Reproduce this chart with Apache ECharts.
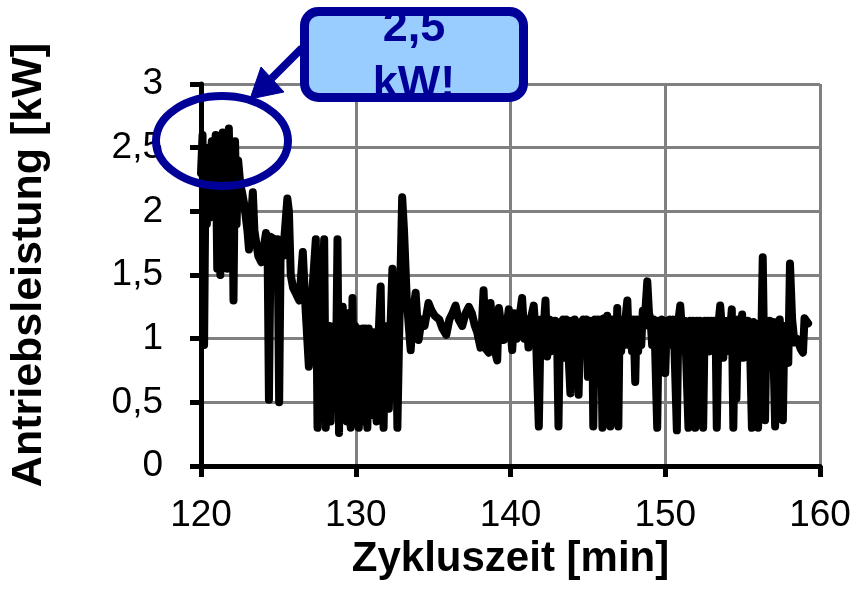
<!DOCTYPE html>
<html>
<head>
<meta charset="utf-8">
<script src="https://cdn.jsdelivr.net/npm/echarts@6/dist/echarts.min.js"></script>
<style>
html,body{margin:0;padding:0;background:#fff;}
#chart{width:856px;height:593px;}
</style>
</head>
<body>
<div id="chart"></div>
<script>
// [Zykluszeit min, Antriebsleistung kW]
var startupPhase = [
[120.00,2.30],[120.10,2.60],[120.20,0.95],[120.30,2.45],[120.38,1.90],[120.45,2.50],[120.55,1.95],
[120.62,2.45],[120.70,2.55],[120.80,2.00],[120.88,2.40],[120.95,2.60],[121.05,1.55],[121.15,2.55],
[121.25,1.50],[121.33,2.30],[121.40,2.62],[121.50,1.60],[121.60,2.55],[121.70,1.55],[121.80,2.65],
[121.90,1.75],[122.00,2.45],[122.10,1.30],[122.20,2.55],[122.30,1.90],[122.40,2.40],[122.55,2.20],
[122.65,2.15],[122.80,2.05],[123.00,1.85],[123.10,1.70],[123.35,2.15],[123.45,1.85],[123.70,1.65],
[123.90,1.60],[124.20,1.83],[124.30,1.75],[124.39,0.52],[124.50,1.80],[124.75,1.78],[124.95,1.78],
[125.05,0.50],[125.15,1.75],[125.30,1.65],[125.58,2.10],[125.68,2.00],[125.80,1.50],[125.95,1.40],
[126.15,1.35],[126.35,1.30],[126.58,1.68],[126.75,1.25],[126.97,0.78],[127.10,1.20],[127.42,1.78],
[127.53,0.30],[127.65,1.00],[127.80,1.20],[127.96,1.78],[128.06,0.30]
];
var transitionPhase = [
[128.15,1.05],[128.22,0.40],[128.30,1.10],[128.38,0.35],[128.46,1.05],[128.54,0.45],[128.62,1.10],
[128.70,0.50],[128.82,1.78],[128.92,0.26],[129.00,1.15],[129.08,0.40],[129.16,1.25],[129.25,0.45],
[129.33,1.10],[129.42,0.35],[129.50,1.20],[129.58,0.50],[129.68,0.30],[129.79,1.32],[129.88,0.55],
[129.96,1.10],[130.04,0.40],[130.12,1.08],[130.20,0.30],[130.28,1.05],[130.36,0.50],[130.44,1.08],
[130.52,0.35],[130.60,1.08],[130.68,0.55],[130.75,0.30],[130.84,1.08],[130.92,0.45],[131.00,1.05],
[131.08,0.40],[131.16,1.05],[131.25,0.55],[131.35,0.35],[131.45,0.95],[131.61,1.41],[131.72,0.60],
[131.80,0.30],[131.90,1.10],[131.98,0.50],[132.06,1.05],[132.14,0.45],[132.22,1.00],[132.37,1.55],
[132.50,0.70],[132.60,1.20],[132.69,0.30],[132.80,1.00],[133.00,2.11],[133.12,1.85],[133.30,1.30],
[133.55,0.91],[133.70,1.20],[133.87,1.36],[134.06,0.99],[134.25,1.15],[134.45,1.10],[134.70,1.28],
[134.90,1.22],[135.10,1.18],[135.40,1.15],[135.60,1.08],[135.85,1.03],[136.05,1.15],[136.25,1.20],
[136.45,1.26],[136.65,1.15],[136.88,1.10],[137.10,1.20],[137.31,1.25],[137.50,1.20],[137.70,1.10],
[137.85,1.05],[138.06,0.93],[138.15,1.10],[138.26,1.38],[138.40,0.92],[138.60,0.89],[138.71,1.28],
[138.90,0.95],[139.14,0.83],[139.25,1.24],[139.45,1.05],[139.57,0.99],[139.75,1.10],[139.89,1.23],
[140.11,0.91],[140.25,1.20],[140.40,1.00],[140.50,0.99],[140.65,1.23],[140.75,1.32],[140.90,1.00],
[141.05,1.15],[141.16,0.93],[141.30,1.15],[141.50,1.26],[141.65,1.00],[141.83,0.31],[141.95,1.15],
[142.10,1.00],[142.26,1.30],[142.37,0.86]
];
var steadyPhase = [
[142.50,1.15],[142.60,0.90],[142.70,1.14],[142.80,0.95],[142.90,1.14],[143.00,1.10],[143.10,0.31],
[143.20,1.13],[143.30,0.90],[143.40,1.15],[143.50,0.85],[143.60,1.15],[143.70,1.00],[143.87,0.57],
[143.95,1.14],[144.05,0.90],[144.15,1.15],[144.25,0.95],[144.32,1.12],[144.40,0.56],[144.50,1.13],
[144.60,0.88],[144.70,1.15],[144.80,0.92],[144.90,1.15],[145.00,0.70],[145.10,1.14],[145.20,0.90],
[145.28,1.12],[145.35,0.31],[145.45,1.15],[145.55,0.88],[145.65,1.15],[145.75,0.90],[145.85,1.15],
[145.94,0.30],[146.05,1.16],[146.15,0.95],[146.25,1.18],[146.35,0.85],[146.45,0.31],[146.55,1.15],
[146.65,0.90],[146.75,1.15],[146.82,0.88],[146.90,1.24],[146.97,0.31],[147.05,1.15],[147.15,0.90],
[147.25,1.15],[147.35,0.95],[147.45,1.18],[147.55,1.30],[147.65,0.95],[147.75,1.15],[147.85,0.90],
[147.95,1.15],[148.06,0.66],[148.15,1.15],[148.25,0.90],[148.35,1.15],[148.45,0.95],[148.55,1.22],
[148.65,1.10],[148.84,1.45],[148.95,1.20],[149.05,1.15],[149.15,0.95],[149.25,1.15],[149.35,0.90],
[149.48,0.30],[149.58,1.14],[149.68,0.95],[149.78,1.15],[149.90,1.10],[150.00,0.73],[150.10,1.14],
[150.20,0.95],[150.30,1.15],[150.40,1.12],[150.50,1.15],[150.60,0.90],[150.75,0.28],[150.85,1.14],
[150.97,1.26],[151.05,1.12],[151.15,0.95],[151.25,1.14],[151.35,0.85],[151.50,0.30],[151.60,1.14],
[151.70,0.95],[151.80,1.14],[151.94,0.30],[152.05,1.14],[152.15,1.00],[152.25,1.14],[152.35,1.12],
[152.45,0.30],[152.55,1.14],[152.65,0.95],[152.75,1.14],[152.85,0.90],[152.95,1.14],[153.05,1.00],
[153.15,1.14],[153.25,1.12],[153.33,0.30],[153.45,1.13],[153.55,1.26],[153.65,1.10],[153.75,0.85],
[153.85,1.14],[153.95,0.90],[154.05,1.14],[154.15,1.00],[154.30,1.23],[154.40,0.30],[154.50,1.10],
[154.60,0.53],[154.70,1.15],[154.80,0.95],[154.97,1.19],[155.05,0.85],[155.15,1.13],[155.25,0.90],
[155.35,1.14],[155.45,1.10],[155.60,0.30],[155.70,1.13],[155.80,0.95],[155.90,1.10],[156.00,0.30],
[156.10,1.12],[156.20,0.95],[156.30,1.64],[156.45,0.36],[156.55,1.13],[156.65,0.90],[156.75,1.14],
[156.85,0.95],[156.95,1.13],[157.10,0.31],[157.20,1.13],[157.30,0.95],[157.40,1.15],[157.60,0.36],
[157.70,1.10],[157.80,0.90],[157.95,0.81],[158.06,1.59],[158.20,1.15],[158.35,0.97],[158.50,1.00],
[158.60,0.97],[158.75,0.92],[158.90,0.89],[159.00,1.16],[159.23,1.12]
];
var xTicks = [120, 130, 140, 150, 160];
var yTicks = ['0', '0,5', '1', '1,5', '2', '2,5', '3'];
var xTitle = 'Zykluszeit [min]';
var yTitle = 'Antriebsleistung [kW]';
var calloutText = '2,5\nkW!';

var seriesData = startupPhase.concat(transitionPhase, steadyPhase);

var chart = echarts.init(document.getElementById('chart'), null, {renderer: 'canvas'});
var FONT = '"Liberation Sans", Arial, sans-serif';
var BLUE = '#000099';

chart.setOption({
  animation: false,
  backgroundColor: '#ffffff',
  grid: {left: 200, right: 36, top: 84, bottom: 127, containLabel: false},
  xAxis: {
    type: 'value', min: xTicks[0], max: xTicks[xTicks.length - 1], interval: 10,
    name: xTitle, nameLocation: 'middle', nameGap: 70,
    nameTextStyle: {fontFamily: FONT, fontSize: 42, fontWeight: 'bold', color: '#000'},
    axisLine: {show: true, onZero: false, lineStyle: {color: '#000', width: 5}},
    axisTick: {show: true, inside: false, length: 11, lineStyle: {color: '#000', width: 5}},
    axisLabel: {fontFamily: FONT, fontSize: 37, color: '#000', margin: 31},
    splitLine: {show: true, lineStyle: {color: '#808080', width: 3}}
  },
  yAxis: {
    type: 'value', min: 0, max: 3, interval: 0.5,
    name: yTitle, nameLocation: 'middle', nameGap: 150, nameRotate: 90,
    nameTextStyle: {fontFamily: FONT, fontSize: 43, fontWeight: 'bold', color: '#000',
      padding: [0, 0, 0, 20]},
    axisLine: {show: true, onZero: false, lineStyle: {color: '#000', width: 5}},
    axisTick: {show: true, inside: false, length: 11, lineStyle: {color: '#000', width: 5}},
    axisLabel: {fontFamily: FONT, fontSize: 37, color: '#000', margin: 38,
      formatter: function (v) { return yTicks[Math.round(v * 2)]; }},
    splitLine: {show: true, lineStyle: {color: '#808080', width: 3}}
  },
  series: [{
    type: 'line',
    data: seriesData,
    showSymbol: false,
    symbol: 'none',
    clip: false,
    lineStyle: {color: '#000', width: 8, cap: 'round', join: 'round'},
    z: 3
  }],
  graphic: [
    {type: 'ellipse', z: 100, shape: {cx: 222, cy: 141, rx: 66, ry: 45},
      style: {fill: 'none', stroke: BLUE, lineWidth: 8}},
    {type: 'line', z: 100, shape: {x1: 302, y1: 48, x2: 270, y2: 80},
      style: {stroke: BLUE, lineWidth: 8}},
    {type: 'polygon', z: 100, shape: {points: [[250, 99], [261, 67], [284, 92]]},
      style: {fill: BLUE, stroke: BLUE, lineWidth: 1}},
    {type: 'rect', z: 101, shape: {x: 304.5, y: 11.5, width: 219, height: 86, r: 14},
      style: {fill: '#99CCFF', stroke: 'none'}},
    {type: 'text', z: 102, x: 414, y: 1,
      style: {text: calloutText, fill: BLUE, font: 'bold 45px ' + FONT,
        textAlign: 'center', textVerticalAlign: 'top', lineHeight: 56}},
    {type: 'rect', z: 103, shape: {x: 304.5, y: 11.5, width: 219, height: 86, r: 14},
      style: {fill: 'none', stroke: BLUE, lineWidth: 9}}
  ]
});
</script>
</body>
</html>
